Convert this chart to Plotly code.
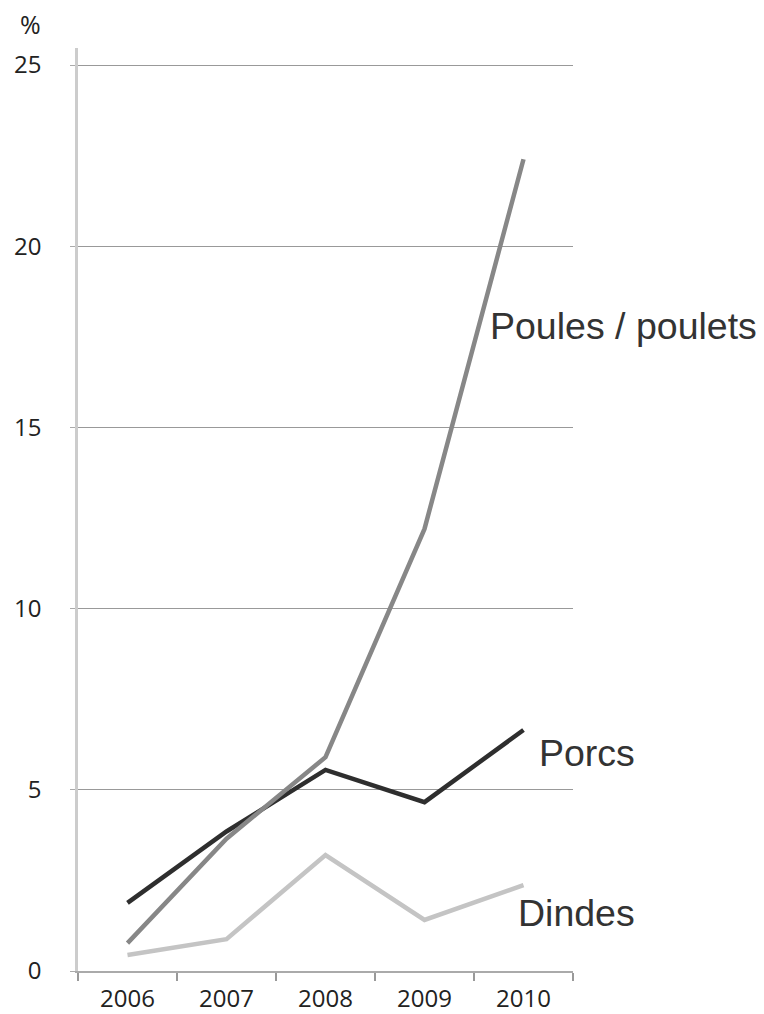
import plotly.graph_objects as go

years = ["2006", "2007", "2008", "2009", "2010"]
poules = [0.77, 3.65, 5.9, 12.2, 22.4]
porcs = [1.88, 3.85, 5.55, 4.66, 6.65]
dindes = [0.44, 0.88, 3.2, 1.41, 2.37]
y_ticks = [0, 5, 10, 15, 20, 25]

fig = go.Figure()
fig.add_trace(go.Scatter(x=years, y=dindes, mode="lines",
                         line=dict(color="#c4c4c4", width=4.5), name="Dindes"))
fig.add_trace(go.Scatter(x=years, y=porcs, mode="lines",
                         line=dict(color="#2e2e2e", width=4.5), name="Porcs"))
fig.add_trace(go.Scatter(x=years, y=poules, mode="lines",
                         line=dict(color="#878787", width=4.5), name="Poules / poulets"))

label_font = dict(family="Liberation Sans, Arial", size=37.5, color="#333333")
fig.add_annotation(x=3.64, y=17.8, text="Poules / poulets", showarrow=False,
                   xanchor="left", yanchor="middle", font=label_font)
fig.add_annotation(x=4.14, y=6.02, text="Porcs", showarrow=False,
                   xanchor="left", yanchor="middle", font=label_font)
fig.add_annotation(x=3.92, y=1.6, text="Dindes", showarrow=False,
                   xanchor="left", yanchor="middle", font=label_font)
fig.add_annotation(x=0, xref="paper", xshift=-48, y=1.0, yref="paper", yshift=5,
                   text="%", showarrow=False, xanchor="center", yanchor="bottom",
                   font=dict(family="Open Sans", size=25, color="#222222"))

fig.update_xaxes(type="category", range=[-0.5, 4.5], tickson="boundaries",
                 ticks="outside", ticklen=8, tickcolor="#999999", tickwidth=2,
                 showline=True, linecolor="#aaaaaa", linewidth=2,
                 showgrid=False, zeroline=False, ticklabelstandoff=5,
                 automargin=False,
                 tickfont=dict(family="Open Sans", size=24, color="#222222"))
fig.update_yaxes(range=[0, 25.47], tickvals=y_ticks, ticks="outside",
                 ticklen=5, tickcolor="#aaaaaa", showline=True,
                 linecolor="#cccccc", linewidth=2.5, showgrid=True,
                 gridcolor="#999999", gridwidth=1, zeroline=False,
                 ticklabelstandoff=24, automargin=False,
                 tickfont=dict(family="Open Sans", size=24, color="#222222"))

fig.update_layout(width=756, height=1006, showlegend=False,
                  margin=dict(l=70, r=191, t=40, b=43),
                  plot_bgcolor="white", paper_bgcolor="white")

fig.write_html("out.html")
